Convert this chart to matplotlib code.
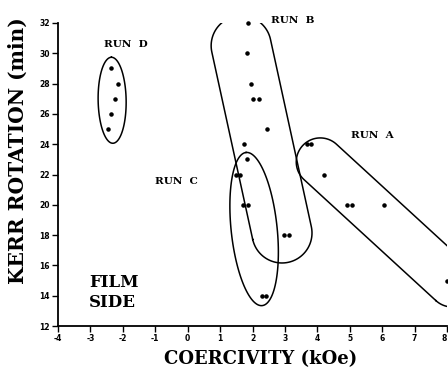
import numpy as np
import matplotlib
matplotlib.use('Agg')
import matplotlib.pyplot as plt

# points (kOe, min)
run_a_x = [3.68, 3.82, 4.2, 4.93, 5.07, 6.05, 8.0]
run_a_y = [24, 24, 22, 20, 20, 20, 15]
run_b_x = [1.86, 1.82, 1.95, 2.03, 2.2, 2.44, 1.74, 2.98, 3.13]
run_b_y = [32, 30, 28, 27, 27, 25, 24, 18, 18]
run_c_x = [1.82, 1.5, 1.62, 1.72, 1.86, 2.3, 2.42]
run_c_y = [23, 22, 22, 20, 20, 14, 14]
run_d_x = [-2.35, -2.15, -2.25, -2.35, -2.45]
run_d_y = [29, 28, 27, 26, 25]

x_ticks = list(range(-4, 9))
y_ticks = list(range(12, 33, 2))

fig = plt.figure(figsize=(4.48, 3.68), dpi=100)
ax = fig.add_axes([58 / 448, 42 / 368, 389 / 448, 303 / 368])
ax.set_xlim(-4, 8)
ax.set_ylim(12, 32)

# pixels per data unit, used to draw the hand-drawn envelopes
sx = 389 / 12
sy = 303 / 20


def stadium(p0, p1, r_px, n=60):
    u0, v0 = p0[0] * sx, p0[1] * sy
    u1, v1 = p1[0] * sx, p1[1] * sy
    ang = np.arctan2(v1 - v0, u1 - u0)
    a1 = np.linspace(ang - np.pi / 2, ang + np.pi / 2, n)
    a0 = np.linspace(ang + np.pi / 2, ang + 3 * np.pi / 2, n)
    u = np.concatenate([u1 + r_px * np.cos(a1), u0 + r_px * np.cos(a0), [u1 + r_px * np.cos(a1[0])]])
    v = np.concatenate([v1 + r_px * np.sin(a1), v0 + r_px * np.sin(a0), [v1 + r_px * np.sin(a1[0])]])
    return u / sx, v / sy


def ellipse(c, a_px, b_px, tilt_deg, n=120):
    t = np.linspace(0, 2 * np.pi, n)
    th = np.radians(tilt_deg)
    u = a_px * np.cos(t)
    v = b_px * np.sin(t)
    uu = u * np.cos(th) - v * np.sin(th)
    vv = u * np.sin(th) + v * np.cos(th)
    return c[0] + uu / sx, c[1] + vv / sy


lw = 1.1
ax.plot(*stadium((4.09, 22.83), (8.16, 14.84), 24), color='black', lw=lw)
ax.plot(*stadium((1.65, 30.5), (2.91, 18.14), 30), color='black', lw=lw)
ax.plot(*ellipse((2.05, 18.4), 77, 23, 96), color='black', lw=lw)
ax.plot(*ellipse((-2.33, 26.9), 43, 14, 91), color='black', lw=lw)

for xs, ys in [(run_a_x, run_a_y), (run_b_x, run_b_y), (run_c_x, run_c_y), (run_d_x, run_d_y)]:
    ax.scatter(xs, ys, s=5, color='black', zorder=3, clip_on=False)

font = 'DejaVu Serif'
for x, y, s in [(-2.58, 30.55, 'RUN  D'), (2.57, 32.16, 'RUN  B'),
                (5.04, 24.6, 'RUN  A'), (-1.0, 21.57, 'RUN  C')]:
    ax.text(x, y, s, fontsize=7.5, fontweight='bold', family=font, va='center')
ax.text(-3.04, 14.87, 'FILM', fontsize=12, fontweight='bold', family=font, va='center')
ax.text(-3.04, 13.52, 'SIDE', fontsize=12, fontweight='bold', family=font, va='center')

ax.spines['top'].set_visible(False)
ax.spines['right'].set_visible(False)
ax.spines['left'].set_linewidth(1.3)
ax.spines['bottom'].set_linewidth(1.3)
ax.set_xticks(x_ticks)
ax.set_yticks(y_ticks)
ax.set_xticklabels([str(v) for v in x_ticks], fontsize=5.5, fontweight='bold')
ax.set_yticklabels([str(v) for v in y_ticks], fontsize=5.5, fontweight='bold')
ax.get_xticklabels()[-1].set_ha('right')  # last label sits at the figure edge
ax.tick_params(direction='out', length=4, width=1, pad=2)

fig.text(261 / 448, 1 - 359 / 368, 'COERCIVITY (kOe)', fontsize=13, fontweight='bold',
         family=font, ha='center', va='center')
fig.text(18 / 448, 1 - 151 / 368, 'KERR ROTATION (min)', fontsize=14.5, fontweight='bold',
         family=font, ha='center', va='center', rotation=90)

fig.savefig('out.png', dpi=100)
